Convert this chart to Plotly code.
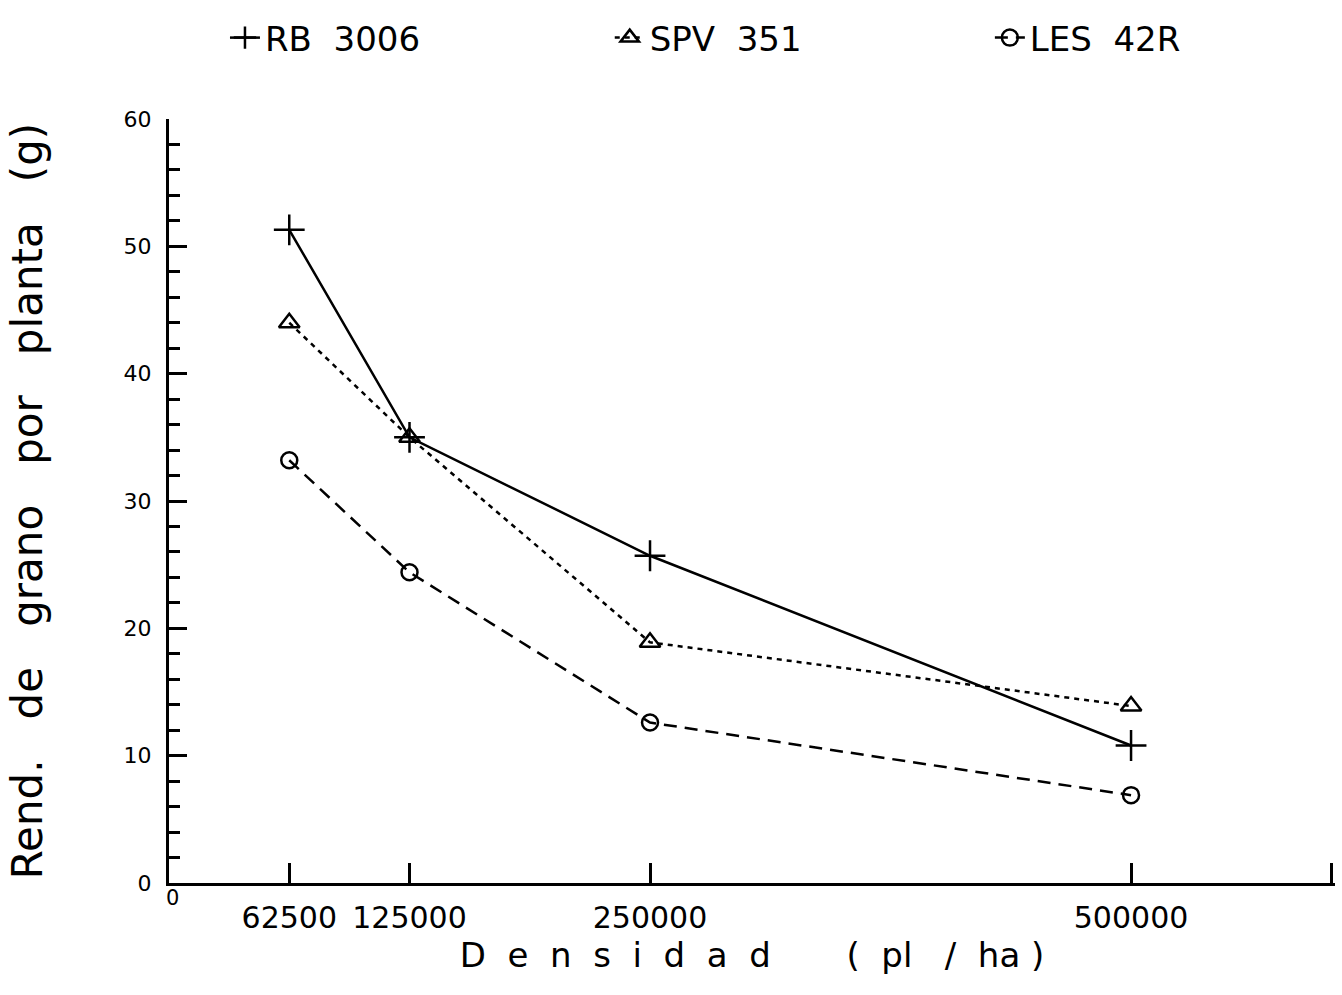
import plotly.graph_objects as go

densidad = [62500, 125000, 250000, 500000]
rb_3006 = [51.3, 35.0, 25.7, 10.8]
spv_351 = [44.0, 35.0, 18.9, 13.9]
les_42r = [33.2, 24.4, 12.6, 6.9]

x_tick_vals = [62500, 125000, 250000, 500000, 604000]
x_tick_text = ["62500", "125000", "250000", "500000", ""]
y_tick_vals = [0, 10, 20, 30, 40, 50, 60]

NB = "\u00a0"
FONT = "DejaVu Sans"

fig = go.Figure()
fig.add_trace(go.Scatter(
    x=densidad, y=rb_3006, mode="lines+markers", name="RB" + NB * 2 + "3006",
    line=dict(color="black", width=2.5, dash="solid"),
    marker=dict(symbol="cross-thin-open", size=22, line=dict(color="black", width=2.5)),
    legend="legend",
))
fig.add_trace(go.Scatter(
    x=densidad, y=spv_351, mode="lines+markers", name="SPV" + NB * 2 + "351",
    line=dict(color="black", width=2.5, dash="5px,5px"),
    marker=dict(symbol="triangle-up-open", size=18, color="black", line=dict(color="black", width=2.5)),
    legend="legend2",
))
fig.add_trace(go.Scatter(
    x=densidad, y=les_42r, mode="lines+markers", name="LES" + NB * 2 + "42R",
    line=dict(color="black", width=2.5, dash="13px,8px"),
    marker=dict(symbol="circle-open", size=16, color="black", line=dict(color="black", width=2.5)),
    legend="legend3",
))

sp = " " + NB * 2
ytitle = sp.join(["Rend.", "de", "grano", "por", "planta", "(g)"])
xtitle = ((NB * 2).join(list("Densidad")) + NB * 7 + "(" + NB * 2 + "pl" + NB * 3 + "/"
          + NB * 2 + "ha" + NB + ")")


def make_legend(xpos):
    return dict(
        orientation="h", x=xpos, y=1.106, xanchor="left", yanchor="middle",
        font=dict(size=34, family=FONT, color="black"),
        bgcolor="rgba(0,0,0,0)",
    )


fig.update_layout(
    width=1342, height=995,
    margin=dict(l=169, r=7, t=119, b=112),
    paper_bgcolor="white", plot_bgcolor="white",
    font=dict(family=FONT, color="black"),
    showlegend=True,
    legend=make_legend(0.048),
    legend2=make_legend(0.378),
    legend3=make_legend(0.704),
    xaxis=dict(
        range=[0, 606000], tickmode="array", tickvals=x_tick_vals, ticktext=x_tick_text,
        ticks="inside", ticklen=20, tickwidth=2.5, tickcolor="black",
        showline=True, linewidth=3, linecolor="black",
        showgrid=False, zeroline=False,
        tickfont=dict(size=30, family=FONT, color="black"),
        ticklabelstandoff=6,
        title=dict(text=xtitle, font=dict(size=34, family=FONT, color="black"), standoff=6),
    ),
    yaxis=dict(
        range=[0, 60], tickmode="array", tickvals=y_tick_vals,
        ticks="inside", ticklen=18, tickwidth=2.5, tickcolor="black",
        minor=dict(dtick=2, ticks="inside", ticklen=11, tickwidth=2.5, tickcolor="black", showgrid=False),
        showline=True, linewidth=3, linecolor="black",
        showgrid=False, zeroline=False,
        tickfont=dict(size=22, family=FONT, color="black"),
        ticklabelstandoff=10,
        title=dict(text=ytitle, font=dict(size=42, family=FONT, color="black"), standoff=68),
    ),
    annotations=[dict(
        x=0, y=0, xref="x", yref="y", text="0", showarrow=False,
        xshift=3, yshift=-15, font=dict(size=21, family=FONT, color="black"),
    )],
)

fig.write_html("out.html")
